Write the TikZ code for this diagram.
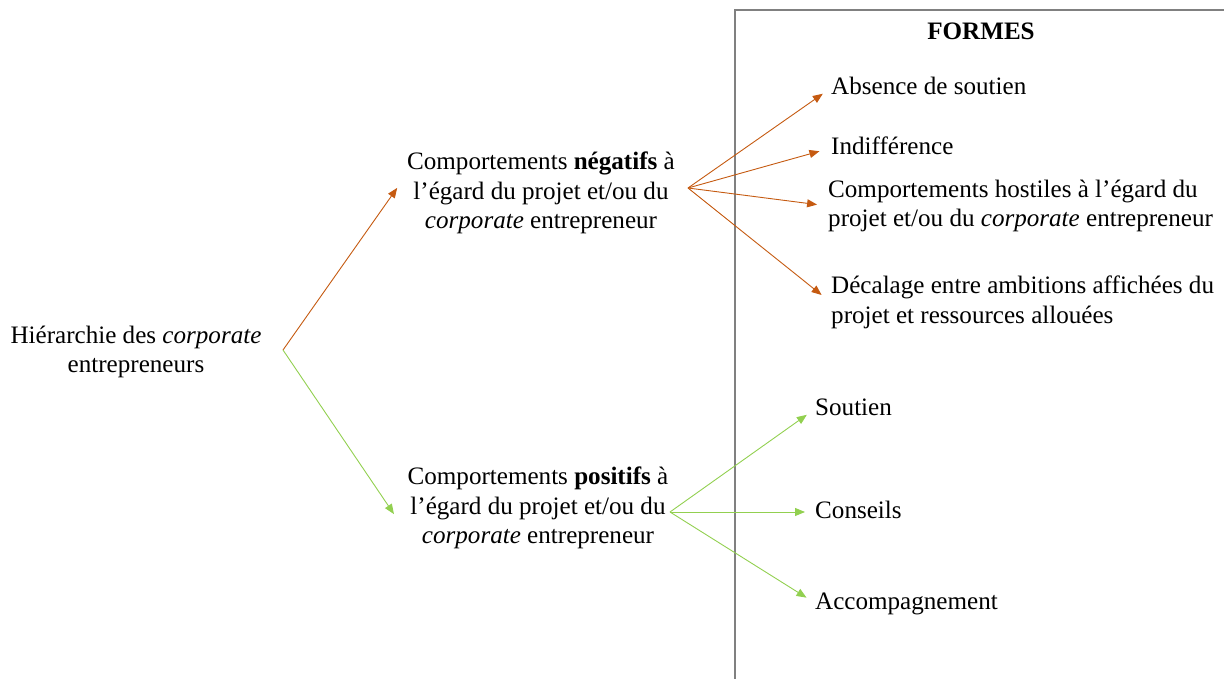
\documentclass[tikz,border=0pt]{standalone}
\usepackage{fontspec}
\setmainfont{Liberation Serif}
\usetikzlibrary{arrows.meta}
\definecolor{negc}{RGB}{197,90,17}
\definecolor{posc}{RGB}{146,208,80}
\definecolor{boxc}{RGB}{128,128,128}
\begin{document}
\begin{tikzpicture}[x=1pt,y=-1pt,
  fnt/.style={font=\fontsize{25.1}{29.5}\selectfont, inner sep=0pt},
  lbl/.style={fnt, text height=18.6pt, text depth=6.2pt},
  ctr/.style={fnt, align=center},
  lft/.style={lbl, anchor=west},
  lftm/.style={fnt, align=left, anchor=west},
  negarrow/.style={draw=negc, line width=0.9pt, -{Triangle[length=10pt,width=8pt]}},
  posarrow/.style={draw=posc, line width=0.9pt, -{Triangle[length=10pt,width=8pt]}},
  boxline/.style={draw=boxc, line width=1.4pt}
]
\useasboundingbox (0,0) rectangle (1224,679);
% frame of FORMES
\coordinate (fbl) at (735,681);
\coordinate (ftl) at (735,10);
\coordinate (ftr) at (1226,10);
\draw[boxline] (fbl) -- (ftl) -- (ftr);
\node[lbl, font=\fontsize{25.1}{29.5}\selectfont\bfseries] (formes) at (981,33) {FORMES};

% root
\node[ctr] (root) at (136,352) {Hiérarchie des \textit{corporate}\\entrepreneurs};
\coordinate (r) at (283,350);

% branches
\node[ctr] (neg) at (541,193) {Comportements \textbf{négatifs} à\\l’égard du projet et/ou du\\\textit{corporate} entrepreneur};
\node[ctr] (pos) at (538,508) {Comportements \textbf{positifs} à\\l’égard du projet et/ou du\\\textit{corporate} entrepreneur};
\coordinate (nf) at (688,188);
\coordinate (pf) at (670,512);

% negative forms
\node[lft] (n1) at (831,88) {Absence de soutien};
\node[lft] (n2) at (831,148) {Indifférence};
\node[lftm] (n3) at (828,206) {Comportements hostiles à l’égard du\\projet et/ou du \textit{corporate} entrepreneur};
\node[lftm] (n4) at (831,302.5) {Décalage entre ambitions affichées du\\projet et ressources allouées};

% positive forms
\node[lft] (p1) at (815,409) {Soutien};
\node[lft] (p2) at (815,512) {Conseils};
\node[lft] (p3) at (815,603) {Accompagnement};

% connectors
\draw[negarrow, shorten >=17pt] (r) -- ([yshift=19pt]neg.west);
\draw[posarrow, shorten >=24pt] (r) -- ([yshift=-26pt]pos.west);
\draw[negarrow, shorten >=10pt] (nf) -- (n1.west);
\draw[negarrow, shorten >=12pt] (nf) -- (n2.west);
\draw[negarrow, shorten >=11pt] (nf) -- (n3.west);
\draw[negarrow, shorten >=12pt] (nf) -- (n4.west);
\draw[posarrow, shorten >=10pt] (pf) -- (p1.west);
\draw[posarrow, shorten >=10pt] (pf) -- (p2.west);
\draw[posarrow, shorten >=10pt] (pf) -- (p3.west);
\end{tikzpicture}
\end{document}
